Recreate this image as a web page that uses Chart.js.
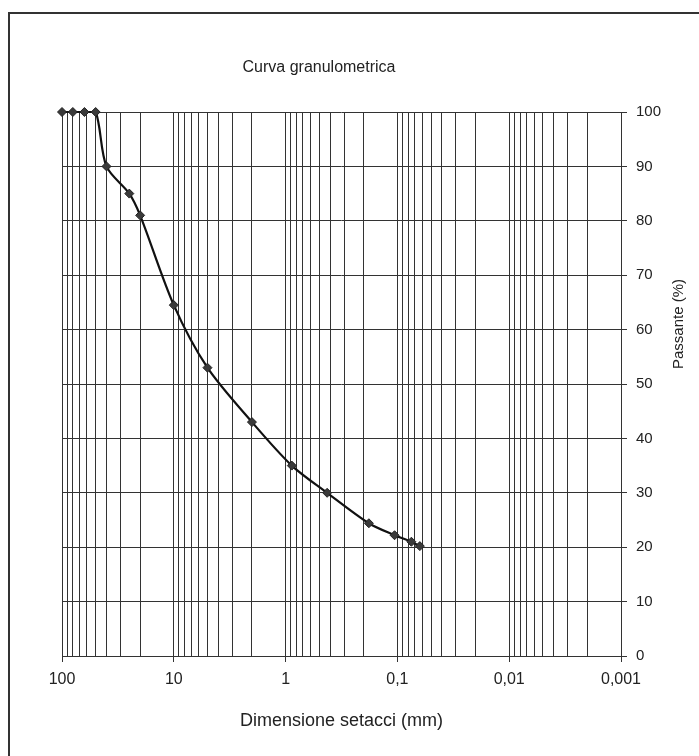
<!DOCTYPE html>
<html>
<head>
<meta charset="utf-8">
<script src="https://cdn.jsdelivr.net/npm/chart.js@4.4.1/dist/chart.umd.min.js"></script>
<style>
  html, body { margin: 0; padding: 0; background: #fff; overflow: hidden; }
  #wrap { position: relative; width: 699px; height: 756px; }
  #frame { position: absolute; left: 8px; top: 12px; width: 760px; height: 800px; border: 2px solid #333; box-sizing: border-box; }
  #wrap canvas { position: absolute; left: 0; top: 0; }
</style>
</head>
<body>
<div id="wrap">
  <div id="frame"></div>
  <canvas id="chart"></canvas>
</div>
<script>
// sieve openings (mm) and % passing
const sieveSizes = [100, 80, 63, 50, 40, 25, 20, 10, 5, 2, 0.88, 0.425, 0.18, 0.106, 0.075, 0.063];
const passing = [100, 100, 100, 100, 90, 85, 81, 64.5, 53, 43, 35, 30, 24.4, 22.2, 21, 20.2];

// decades of the log axis and their labels (Italian decimal comma)
const decades = [0.001, 0.01, 0.1, 1, 10, 100];
const decadeLabels = ['0,001', '0,01', '0,1', '1', '10', '100'];
const minorSteps = [1, 2, 3, 4, 5, 6, 7, 8, 9];

const chartTitle = 'Curva granulometrica';
const yTitle = 'Passante (%)';
const xTitle = 'Dimensione setacci (mm)';

const gridTicks = [];
decades.forEach((d, i) => {
  if (i === decades.length - 1) { gridTicks.push(d); return; }
  minorSteps.forEach((m) => gridTicks.push(+(d * m).toPrecision(3)));
});

const isDecade = (v) => decades.some((d) => Math.abs(d - v) / d < 1e-6);

const fontFamily = '"Liberation Sans", Arial, sans-serif';
const gridColor = '#333';
const textColor = '#222';

// the title sits a bit left of the plot centre in the scan, and the
// y title reads bottom-to-top on the right side, so both are drawn here
const titlesPlugin = {
  id: 'titles',
  afterDraw(chart) {
    const { ctx } = chart;
    ctx.save();
    ctx.fillStyle = textColor;
    ctx.textAlign = 'center';
    ctx.textBaseline = 'middle';
    ctx.font = '16px ' + fontFamily;
    ctx.fillText(chartTitle, 319, 68);
    ctx.translate(679, 324);
    ctx.rotate(-Math.PI / 2);
    ctx.font = '15px ' + fontFamily;
    ctx.fillText(yTitle, 0, 0);
    ctx.restore();
  },
};

const canvas = document.getElementById('chart');
canvas.width = 699;
canvas.height = 756;

new Chart(canvas.getContext('2d'), {
  type: 'line',
  data: {
    datasets: [
      {
        label: 'Passante',
        data: sieveSizes.map((s, i) => ({ x: s, y: passing[i] })),
        borderColor: '#111',
        borderWidth: 2.2,
        backgroundColor: '#3a3a3a',
        pointStyle: 'rectRot',
        pointRadius: 4.5,
        pointBorderColor: '#222',
        pointBorderWidth: 1,
        tension: 0.3,
        clip: false,
        fill: false,
      },
    ],
  },
  options: {
    responsive: false,
    animation: false,
    layout: {
      padding: { left: 62, right: 0, top: 112, bottom: 0 },
    },
    plugins: {
      legend: { display: false },
      tooltip: { enabled: false },
      title: { display: false },
    },
    scales: {
      x: {
        type: 'logarithmic',
        reverse: true,
        min: 0.001,
        max: 100,
        afterBuildTicks: (scale) => {
          scale.ticks = gridTicks.map((v) => ({ value: v }));
        },
        afterFit: (scale) => {
          scale.height = 100;
        },
        ticks: {
          autoSkip: false,
          maxRotation: 0,
          padding: 8,
          color: textColor,
          font: { family: fontFamily, size: 16 },
          callback: (value) => {
            const i = decades.findIndex((d) => Math.abs(d - value) / d < 1e-6);
            return i >= 0 ? decadeLabels[i] : '';
          },
        },
        grid: {
          color: gridColor,
          lineWidth: 1,
          tickLength: 6,
          tickColor: (c) => (c.tick && isDecade(c.tick.value) ? gridColor : 'rgba(0,0,0,0)'),
        },
        border: { color: gridColor },
        title: {
          display: true,
          text: xTitle,
          color: textColor,
          font: { family: fontFamily, size: 18 },
          padding: { top: 0, bottom: 24 },
        },
      },
      y: {
        position: 'right',
        min: 0,
        max: 100,
        afterFit: (scale) => {
          scale.width = 78;
        },
        ticks: {
          stepSize: 10,
          padding: 9,
          color: textColor,
          font: { family: fontFamily, size: 15 },
        },
        grid: {
          color: gridColor,
          lineWidth: 1,
          tickLength: 6,
          tickColor: gridColor,
        },
        border: { color: gridColor },
      },
    },
  },
  plugins: [titlesPlugin],
});
</script>
</body>
</html>
